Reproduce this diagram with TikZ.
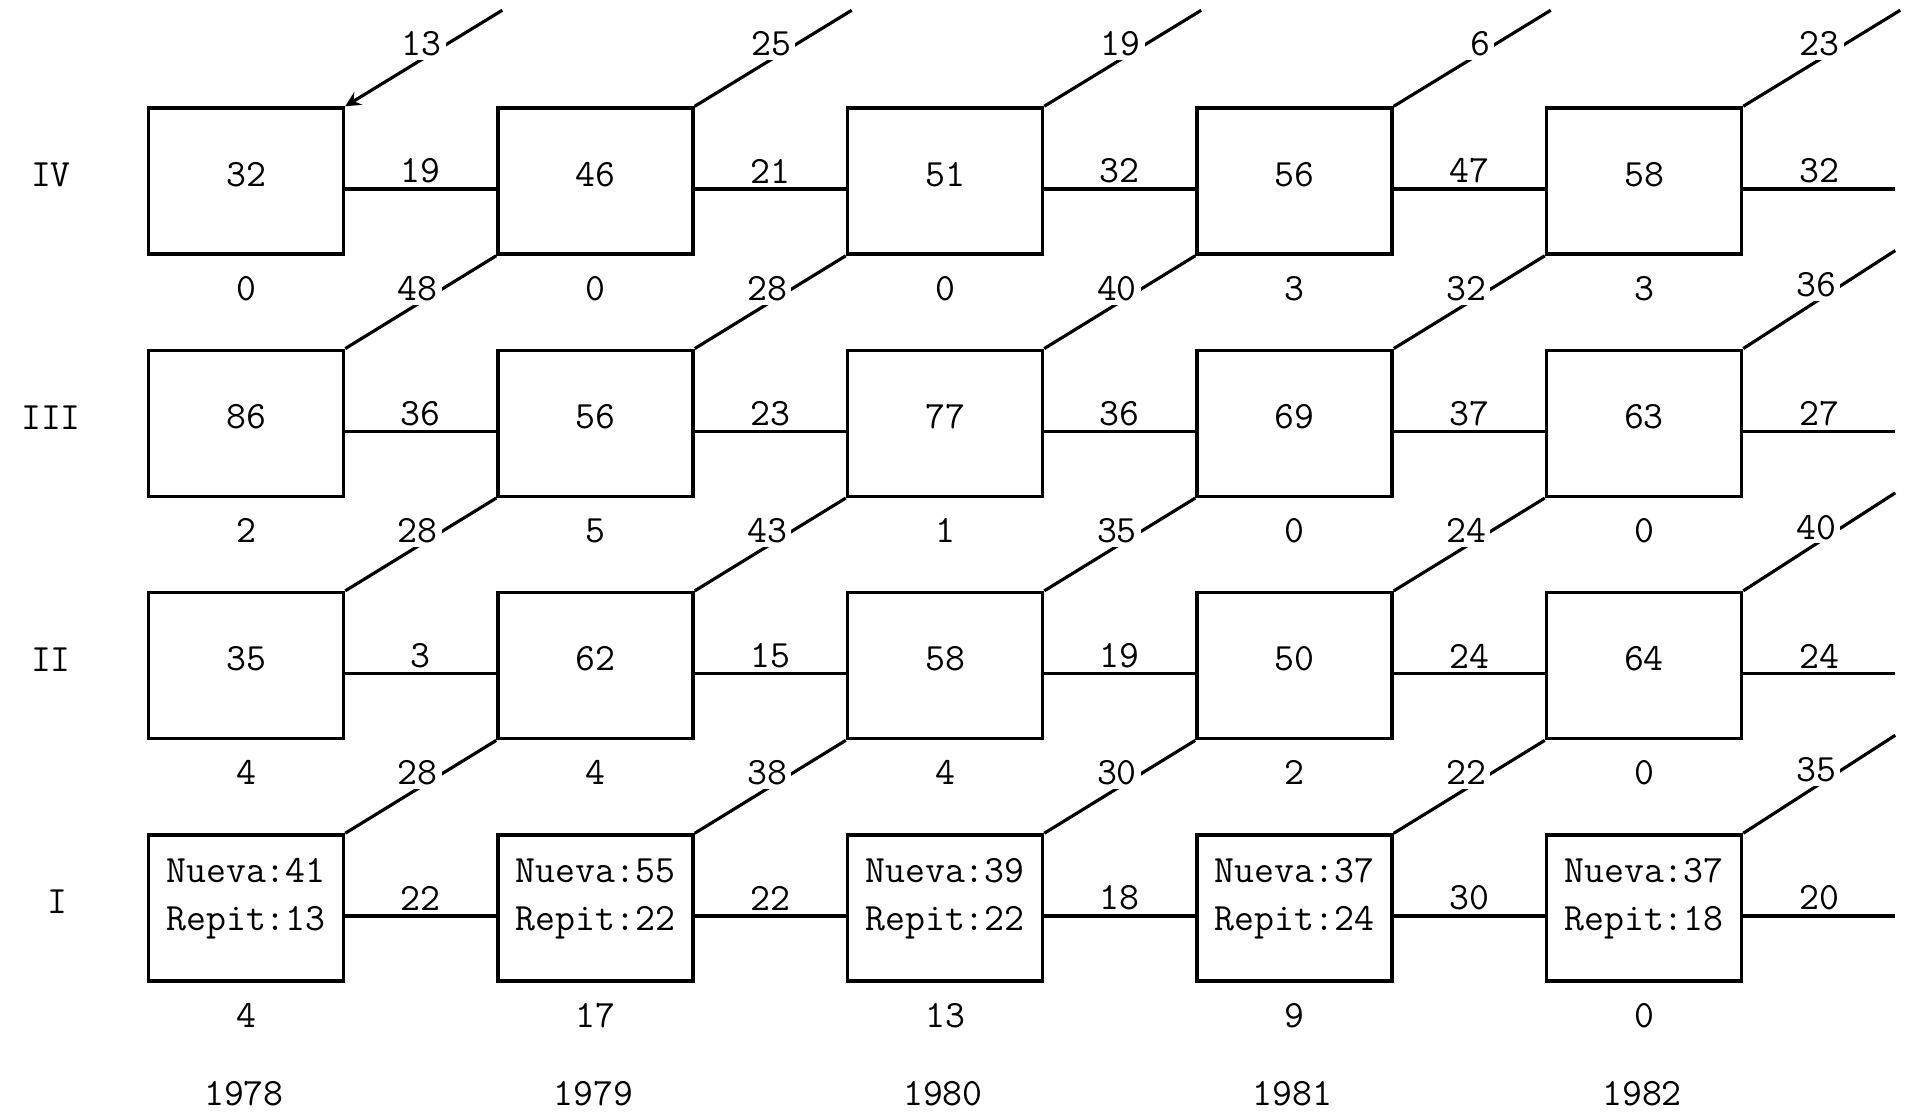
\documentclass[tikz,border=0pt]{standalone}
\usetikzlibrary{arrows, positioning}

\begin{document}
\begin{tikzpicture}[x=0.1mm, y=-0.1mm,
    every node/.style={font=\ttfamily\fontsize{11}{13.6}\selectfont},
    cell/.style={rectangle, draw, line width=1pt, minimum width=19.5mm, minimum height=14.6mm, text height=2.4mm, text depth=1.4mm, inner sep=0pt},
    newcell/.style={cell, align=center, text height=, text depth=2.7mm},
    link/.style={line width=0.9pt},
    arrow/.style={link, <-, >=stealth},
    flow/.style={above, inner sep=0.4mm},
    move/.style={left, pos=0.65, fill=white, inner xsep=0.4mm, inner ysep=0.4mm}]

    \useasboundingbox (0,0) rectangle (1906,1115);

    % boxes
    \foreach \r/\vals in {4/{32,46,51,56,58}, 3/{86,56,77,69,63}, 2/{35,62,58,50,64}}
        \foreach \v [count=\c] in \vals
            \node[cell] (b-\r-\c) at ({246+349.5*(\c-1)}, {181+242.3*(4-\r)}) {\v};
    \foreach \n/\p [count=\c] in {41/13, 55/22, 39/22, 37/24, 37/18}
        \node[newcell] (b-1-\c) at ({246+349.5*(\c-1)}, 908) {Nueva:\n\\Repit:\p};

    % row and year labels
    \foreach \r/\t/\x in {4/IV/51, 3/III/51, 2/II/51, 1/I/57}
        \node (row-\r) at (\x, {175+242.3*(4-\r)}) {\t};
    \foreach \y [count=\c] in {1978,1979,1980,1981,1982}
        \node (year-\c) at ({244+349.5*(\c-1)}, 1094) {\y};

    % numbers under the boxes
    \foreach \r/\vals in {4/{0,0,0,3,3}, 3/{2,5,1,0,0}, 2/{4,4,4,2,0}, 1/{4,17,13,9,0}}
        \foreach \v [count=\c] in \vals
            \node[below=0.8mm of b-\r-\c] (out-\r-\c) {\v};

    % horizontal links
    \foreach \r/\vals in {4/{19,21,32,47,32}, 3/{36,23,36,37,27}, 2/{3,15,19,24,24}, 1/{22,22,18,30,20}}
        \foreach \v [count=\c] in \vals {
            \pgfmathtruncatemacro\nc{\c+1}
            \ifnum\c<5
                \draw[link] ([yshift=-0.8mm]b-\r-\c.east) -- node[flow] {\v} ([yshift=-0.8mm]b-\r-\nc.west);
            \else
                \draw[link] ([yshift=-0.8mm]b-\r-\c.east) -- node[flow] {\v} ++(152,0) coordinate (exit-\r);
            \fi
        }

    % diagonal links
    \foreach \v/\tip [count=\c] in {13/arrow, 25/link, 19/link, 6/link, 23/link}
        \draw[\tip] (b-4-\c.north east) -- node[move] {\v} ++(157,-96) coordinate (top-\c);
    \foreach \r/\vals in {3/{48,28,40,32,36}, 2/{28,43,35,24,40}, 1/{28,38,30,22,35}}
        \foreach \v [count=\c] in \vals {
            \pgfmathtruncatemacro\nr{\r+1}
            \pgfmathtruncatemacro\nc{\c+1}
            \ifnum\c<5
                \draw[link] (b-\r-\c.north east) -- node[move] {\v} (b-\nr-\nc.south west);
            \else
                \draw[link] (b-\r-\c.north east) -- node[move] {\v} ++(152,-98) coordinate (side-\r);
            \fi
        }
\end{tikzpicture}
\end{document}
